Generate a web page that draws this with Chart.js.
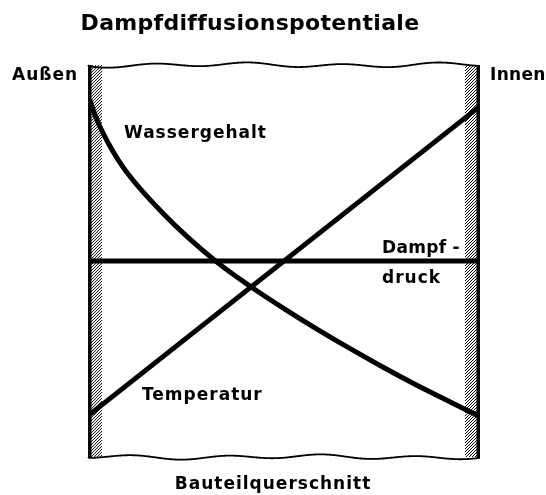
<!DOCTYPE html>
<html>
<head>
<meta charset="utf-8">
<script src="https://cdn.jsdelivr.net/npm/chart.js@4"></script>
<style>
  html, body { margin: 0; padding: 0; background: #fff; }
  #wrap { width: 546px; height: 495px; position: relative; }
</style>
</head>
<body>
<div id="wrap"><canvas id="chart"></canvas></div>
<script>
// Bauteilquerschnitt: 0 = Außen, 100 = Innen
const wasserX = [0.5, 1.8, 3.8, 8.9, 19.1, 32.9, 42.2, 49.8, 58.3, 66.8, 75.3, 83.9, 92.3, 100];
const wasserY = [91, 87.2, 82.7, 74.0, 62.2, 49.7, 43.0, 38.0, 32.7, 27.7, 22.9, 18.3, 14.1, 10.3];

const temperaturX = [0, 100];
const temperaturY = [10.5, 89.5];

const dampfX = [0, 100];
const dampfY = [50, 50];

// hatched walls (x range in axis units)
const wallLeft = [0, 3.6];
const wallRight = [96.2, 100];

const titleText = "Dampfdiffusionspotentiale";
const axisText = "Bauteilquerschnitt";

function pts(xs, ys) {
  return xs.map((x, i) => ({ x: x, y: ys[i] }));
}

/* ===============================
   WÄNDE + WELLENLINIEN
================================ */
const wallPlugin = {
  id: "walls",
  beforeDatasetsDraw(chart) {
    const ctx = chart.ctx;
    const xs = chart.scales.x, ys = chart.scales.y;
    const top = ys.getPixelForValue(100), bottom = ys.getPixelForValue(0);

    // hatching
    [wallLeft, wallRight].forEach(w => {
      const x0 = xs.getPixelForValue(w[0]), x1 = xs.getPixelForValue(w[1]);
      ctx.save();
      ctx.beginPath();
      ctx.rect(x0, top, x1 - x0, bottom - top);
      ctx.clip();
      ctx.strokeStyle = "#000";
      ctx.lineWidth = 1;
      for (let k = top - 30; k < bottom + 30; k += 3) {
        ctx.beginPath();
        ctx.moveTo(x0 - 2, k + (x1 - x0) + 2);
        ctx.lineTo(x1 + 2, k - 2);
        ctx.stroke();
      }
      ctx.restore();
    });

    // outer edges
    const xl = xs.getPixelForValue(0), xr = xs.getPixelForValue(100);
    ctx.save();
    ctx.fillStyle = "#000";
    ctx.fillRect(xl, top, 3.5, bottom - top + 1);
    ctx.fillRect(xr - 3.5, top, 3.5, bottom - top + 1);

    // wavy top + bottom
    ctx.strokeStyle = "#000";
    ctx.lineWidth = 1.8;
    [[top, 0.3], [bottom, 1.7]].forEach(([base, ph]) => {
      ctx.beginPath();
      for (let x = xl; x <= xr; x += 1) {
        const t = x - xl;
        const y = base + 1.8 * Math.sin(t / 15 + ph) + 0.9 * Math.sin(t / 37 + ph * 3);
        if (x === xl) ctx.moveTo(x, base); else ctx.lineTo(x, y);
      }
      ctx.stroke();
    });
    ctx.restore();
  },

  /* ===============================
     TEXTE
  ================================ */
  afterDraw(chart) {
    const ctx = chart.ctx;
    const a = chart.chartArea;
    ctx.save();
    ctx.fillStyle = "#000";
    ctx.textBaseline = "alphabetic";

    ctx.font = 'bold 22px "DejaVu Sans"';
    ctx.letterSpacing = "0.3px";
    ctx.textAlign = "center";
    ctx.fillText(titleText, 250, 30);

    ctx.font = 'bold 17px "DejaVu Sans"';
    ctx.letterSpacing = "1px";
    ctx.fillText(axisText, 273, 489);

    ctx.textAlign = "left";
    ctx.fillText("Außen", 12, 80);
    ctx.fillText("Wassergehalt", 124, 138);
    ctx.fillText("druck", 382, 283);
    ctx.fillText("Temperatur", 142, 400);

    ctx.letterSpacing = "0.3px";
    ctx.fillText("Innen", a.right + 10, 80);
    ctx.fillText("Dampf -", 382, 253);
    ctx.restore();
  }
};

const lineStyle = {
  borderColor: "#000",
  borderWidth: 5,
  pointRadius: 0,
  fill: false
};

new Chart(document.getElementById("chart"), {
  type: "line",
  data: {
    datasets: [
      Object.assign({ label: "Wassergehalt", data: pts(wasserX, wasserY), cubicInterpolationMode: "monotone" }, lineStyle),
      Object.assign({ label: "Temperatur", data: pts(temperaturX, temperaturY) }, lineStyle),
      Object.assign({ label: "Dampfdruck", data: pts(dampfX, dampfY) }, lineStyle)
    ]
  },
  options: {
    responsive: true,
    maintainAspectRatio: false,
    animation: false,
    layout: { padding: { left: 88, right: 66, top: 65, bottom: 38 } },
    plugins: { legend: { display: false }, title: { display: false }, tooltip: { enabled: false } },
    scales: {
      x: { type: "linear", min: 0, max: 100, display: false },
      y: { type: "linear", min: 0, max: 100, display: false }
    }
  },
  plugins: [wallPlugin]
});
</script>
</body>
</html>
